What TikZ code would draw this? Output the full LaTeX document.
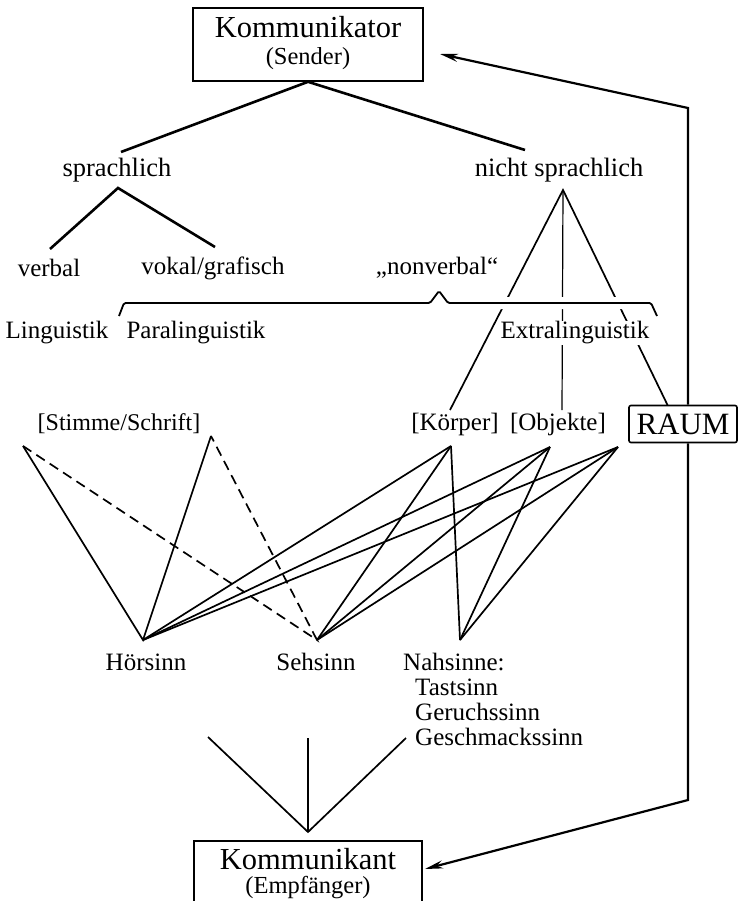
\documentclass[tikz,border=0pt]{standalone}
\usepackage{fontspec}
\setmainfont{Liberation Serif}
\usetikzlibrary{arrows.meta}
\tikzset{
  lbl/.style={inner sep=1pt, font=\fontsize{25}{27}\selectfont},
  biglbl/.style={inner sep=1pt, font=\fontsize{26.5}{28}\selectfont},
  boxnode/.style={draw, line width=1.6pt, inner sep=0pt},
  tree/.style={line width=2.6pt},
  sense/.style={line width=1.7pt},
  senseweak/.style={line width=1.7pt, dash pattern=on 10pt off 6pt},
  back/.style={line width=2.2pt, -{Stealth[length=18pt,width=8pt]}}
}

\begin{document}
\begin{tikzpicture}[x=1pt, y=-1pt]
  %%%%% START %%%%%
  \useasboundingbox (0,0) rectangle (737,901);

  % sender and receiver
  \node[boxnode, minimum width=230pt, minimum height=73pt] (kom) at (308,44.5) {};
  \node[inner sep=0pt, font=\fontsize{30.5}{32}\selectfont] (kom-name) at (308,27) {Kommunikator};
  \node[inner sep=0pt, font=\fontsize{24.5}{26}\selectfont] (kom-role) at (308,59) {(Sender)};
  \node[boxnode, minimum width=228pt, minimum height=70pt, anchor=north] (empf) at (308,840) {};
  \node[inner sep=0pt, font=\fontsize{30.5}{32}\selectfont] (empf-name) at (308,859) {Kommunikant};
  \node[inner sep=0pt, font=\fontsize{24.5}{26}\selectfont] (empf-role) at (308,888) {(Empfänger)};

  % labels
  \node[biglbl] (spr) at (117,170) {sprachlich};
  \node[biglbl] (nspr) at (559,170) {nicht sprachlich};
  \node[lbl] (verb) at (49,268) {verbal};
  \node[lbl] (vokal) at (213,268) {vokal/grafisch};
  \node[lbl] (nonv) at (437,268) {„nonverbal“};
  \node[lbl] (ling) at (57,333) {Linguistik};
  \node[lbl] (para) at (196,333) {Paralinguistik};
  \node[lbl, font=\fontsize{24}{26}\selectfont] (stimme) at (119,424) {[Stimme/Schrift]};
  \node[lbl] (koerper) at (455,424) {[Körper]};
  \node[lbl] (objekte) at (558,424) {[Objekte]};
  \node[lbl] (hoer) at (146,662) {Hörsinn};
  \node[lbl] (seh) at (316,662) {Sehsinn};
  \node[lbl, anchor=west] (nah) at (402,662) {Nahsinne:};
  \node[lbl, anchor=west] (tast) at (414,687) {Tastsinn};
  \node[lbl, anchor=west] (geruch) at (414,712) {Geruchssinn};
  \node[lbl, anchor=west] (geschmack) at (414,737) {Geschmackssinn};

  % end points of the lines
  \coordinate (spr-t) at (121,152);
  \coordinate (nspr-t) at (525,150);
  \coordinate (spr-b) at (118,188);
  \coordinate (verb-t) at (50,249);
  \coordinate (vokal-t) at (215,247);
  \coordinate (nspr-b) at (563,190);
  \coordinate (koerper-t) at (450,410);
  \coordinate (objekte-t) at (562,410);
  \coordinate (raum-t) at (668,406);
  \coordinate (s1) at (23,446);
  \coordinate (s2) at (211,436);
  \coordinate (k) at (451,446);
  \coordinate (o) at (550,447);
  \coordinate (r) at (618,447);
  \coordinate (hv) at (143,640);
  \coordinate (sv) at (317,640);
  \coordinate (nv) at (460,640);
  \coordinate (vl) at (208,737);
  \coordinate (vm) at (308,738);
  \coordinate (vr) at (406,738);
  \coordinate (vb) at (308,832);
  \coordinate (ctop) at (688,108);
  \coordinate (cbot) at (688,800);
  \coordinate (kom-in) at (440,54);
  \coordinate (empf-in) at (425,869);

  % tree
  \draw[tree] (spr-t) -- (kom.south) -- (nspr-t);
  \draw[tree] (verb-t) -- (spr-b) -- (vokal-t);
  \draw[sense] (koerper-t) -- (nspr-b) -- (raum-t);
  \draw[line width=1.2pt] (nspr-b) -- (objekte-t);

  % brace over the three kinds
  \draw[line width=1.8pt, rounded corners=1.5pt, preaction={draw=white, line width=12pt}]
    (119,316) -- (124,303) -- (430,303) -- (439,291) -- (448,303) -- (651,303) -- (657,316);
  \node[lbl, fill=white] (extra) at (575,333) {Extralinguistik};

  \node[boxnode, fill=white, rounded corners=2pt, minimum width=108pt, minimum height=37pt,
        font=\fontsize{31}{32}\selectfont] (raum) at (683,424) {RAUM};

  % channels to the senses
  \draw[sense] (s1) -- (hv) -- (s2);
  \draw[senseweak] (s1) -- (sv) -- (s2);
  \foreach \src in {k,o,r} {
    \draw[sense] (\src) -- (hv);
    \draw[sense] (\src) -- (sv);
    \draw[sense] (\src) -- (nv);
  }

  % into the receiver
  \draw[sense] (vl) -- (vb) -- (vr);
  \draw[sense] (vm) -- (vb);

  % feedback path
  \draw[back] (ctop |- raum.north) -- (ctop) -- (kom-in);
  \draw[back] (ctop |- raum.south) -- (cbot) -- (empf-in);

  %%%%% END %%%%%
\end{tikzpicture}
\end{document}
